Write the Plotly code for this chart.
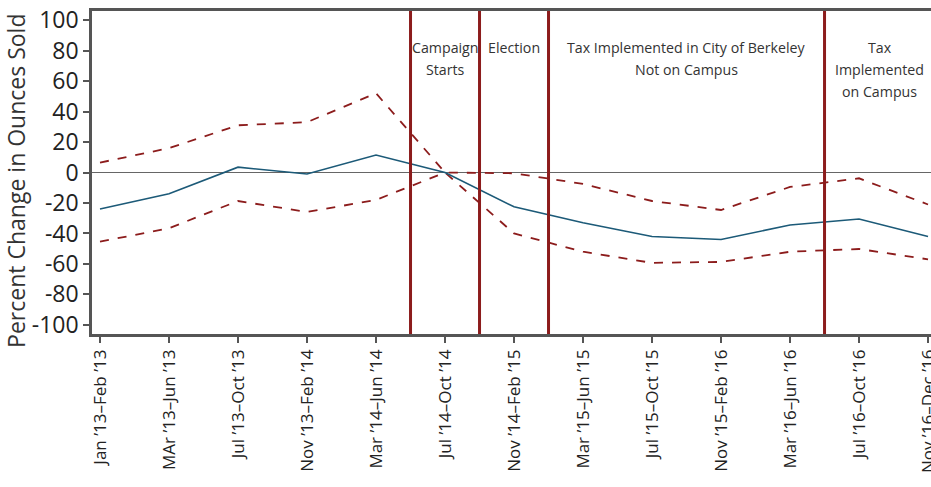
import plotly.graph_objects as go

# Period labels (x axis categories)
periods = [
    "Jan ’13–Feb ’13", "MAr ’13–Jun ’13", "Jul ’13–Oct ’13", "Nov ’13–Feb ’14",
    "Mar ’14–Jun ’14", "Jul ’14–Oct ’14", "Nov ’14–Feb ’15", "Mar ’15–Jun ’15",
    "Jul ’15–Oct ’15", "Nov ’15–Feb ’16", "Mar ’16–Jun ’16", "Jul ’16–Oct ’16",
    "Nov ’16–Dec ’16",
]

# Percent change estimate and confidence band
estimate = [-24, -14, 3.5, -1, 11.5, 0, -22.5, -33, -42, -44, -34.5, -30.5, -42]
upper_ci = [6.5, 16, 31, 33, 52, 0, -0.5, -7.5, -18.7, -24.6, -9.5, -3.8, -21]
lower_ci = [-45.4, -36.6, -18.7, -25.9, -18, 0, -40, -52, -59.3, -58.7, -52, -50.2, -57]

# Event markers (positions between periods) and their labels
event_positions = [4.5, 5.5, 6.5, 10.5]
event_labels = ["Campaign<br>Starts", "Election",
                "Tax Implemented in City of Berkeley<br>Not on Campus",
                "Tax<br>Implemented<br>on Campus"]
label_positions = [5, 6, 8.5, 11.3]

y_ticks = [100, 80, 60, 40, 20, 0, -20, -40, -60, -80, -100]
y_tick_text = ["100", "80", "60", "40", "20", "0", "-20", "-40", "-60", "-80", "-100"]
y_title = "Percent Change in Ounces Sold"

x_idx = list(range(len(periods)))
red = "#8c1c1c"
blue = "#1c5a78"
axis_col = "#555555"
font_family = "'Open Sans', sans-serif"

fig = go.Figure()

fig.add_trace(go.Scatter(x=x_idx, y=upper_ci, mode="lines",
                         line=dict(color=red, width=1.8, dash="dash"),
                         showlegend=False, hoverinfo="skip"))
fig.add_trace(go.Scatter(x=x_idx, y=lower_ci, mode="lines",
                         line=dict(color=red, width=1.8, dash="dash"),
                         showlegend=False, hoverinfo="skip"))
fig.add_trace(go.Scatter(x=x_idx, y=estimate, mode="lines",
                         line=dict(color=blue, width=1.6),
                         showlegend=False))

# zero reference line
fig.add_shape(type="line", xref="paper", x0=0, x1=1, yref="y", y0=0, y1=0,
              line=dict(color="#666666", width=1), layer="below")

for xp in event_positions:
    fig.add_shape(type="line", xref="x", x0=xp, x1=xp, yref="paper", y0=0, y1=1,
                  line=dict(color=red, width=3), layer="above")

# event labels, one line at a time for wider line spacing
for xp, txt in zip(label_positions, event_labels):
    for i, line in enumerate(txt.split("<br>")):
        fig.add_annotation(x=xp, y=1, xref="x", yref="paper", text=line,
                           showarrow=False, yanchor="middle", xanchor="center",
                           yshift=-36 - 22 * i,
                           font=dict(family=font_family, size=14.2, color="#333333"))

# vertical y-axis title
fig.add_annotation(x=0, y=0.474, xref="paper", yref="paper", text=y_title,
                   textangle=-90, showarrow=False, xanchor="center", yanchor="middle",
                   xshift=-76,
                   font=dict(family=font_family, size=23, color="#333333"))

fig.update_xaxes(
    range=[-0.116, 12.043], tickmode="array", tickvals=x_idx, ticktext=periods,
    tickangle=-90, ticks="outside", ticklen=6, tickwidth=1.5, tickcolor=axis_col,
    ticklabeloverflow="allow", automargin=False,
    showline=True, linecolor=axis_col, linewidth=2.5, mirror=True,
    showgrid=False, zeroline=False,
    tickfont=dict(family=font_family, size=17, color="#222222"),
)
fig.update_yaxes(
    range=[-106, 106], tickmode="array", tickvals=y_ticks, ticktext=y_tick_text,
    ticks="outside", ticklen=6, tickwidth=1.5, tickcolor=axis_col,
    automargin=False,
    showline=True, linecolor=axis_col, linewidth=2.5,
    showgrid=False, zeroline=False,
    tickfont=dict(family=font_family, size=23, color="#222222"),
)

fig.update_layout(
    width=931, height=487,
    margin=dict(l=92, r=0, t=11, b=153),
    plot_bgcolor="white", paper_bgcolor="white",
)

fig.write_html("out.html")
